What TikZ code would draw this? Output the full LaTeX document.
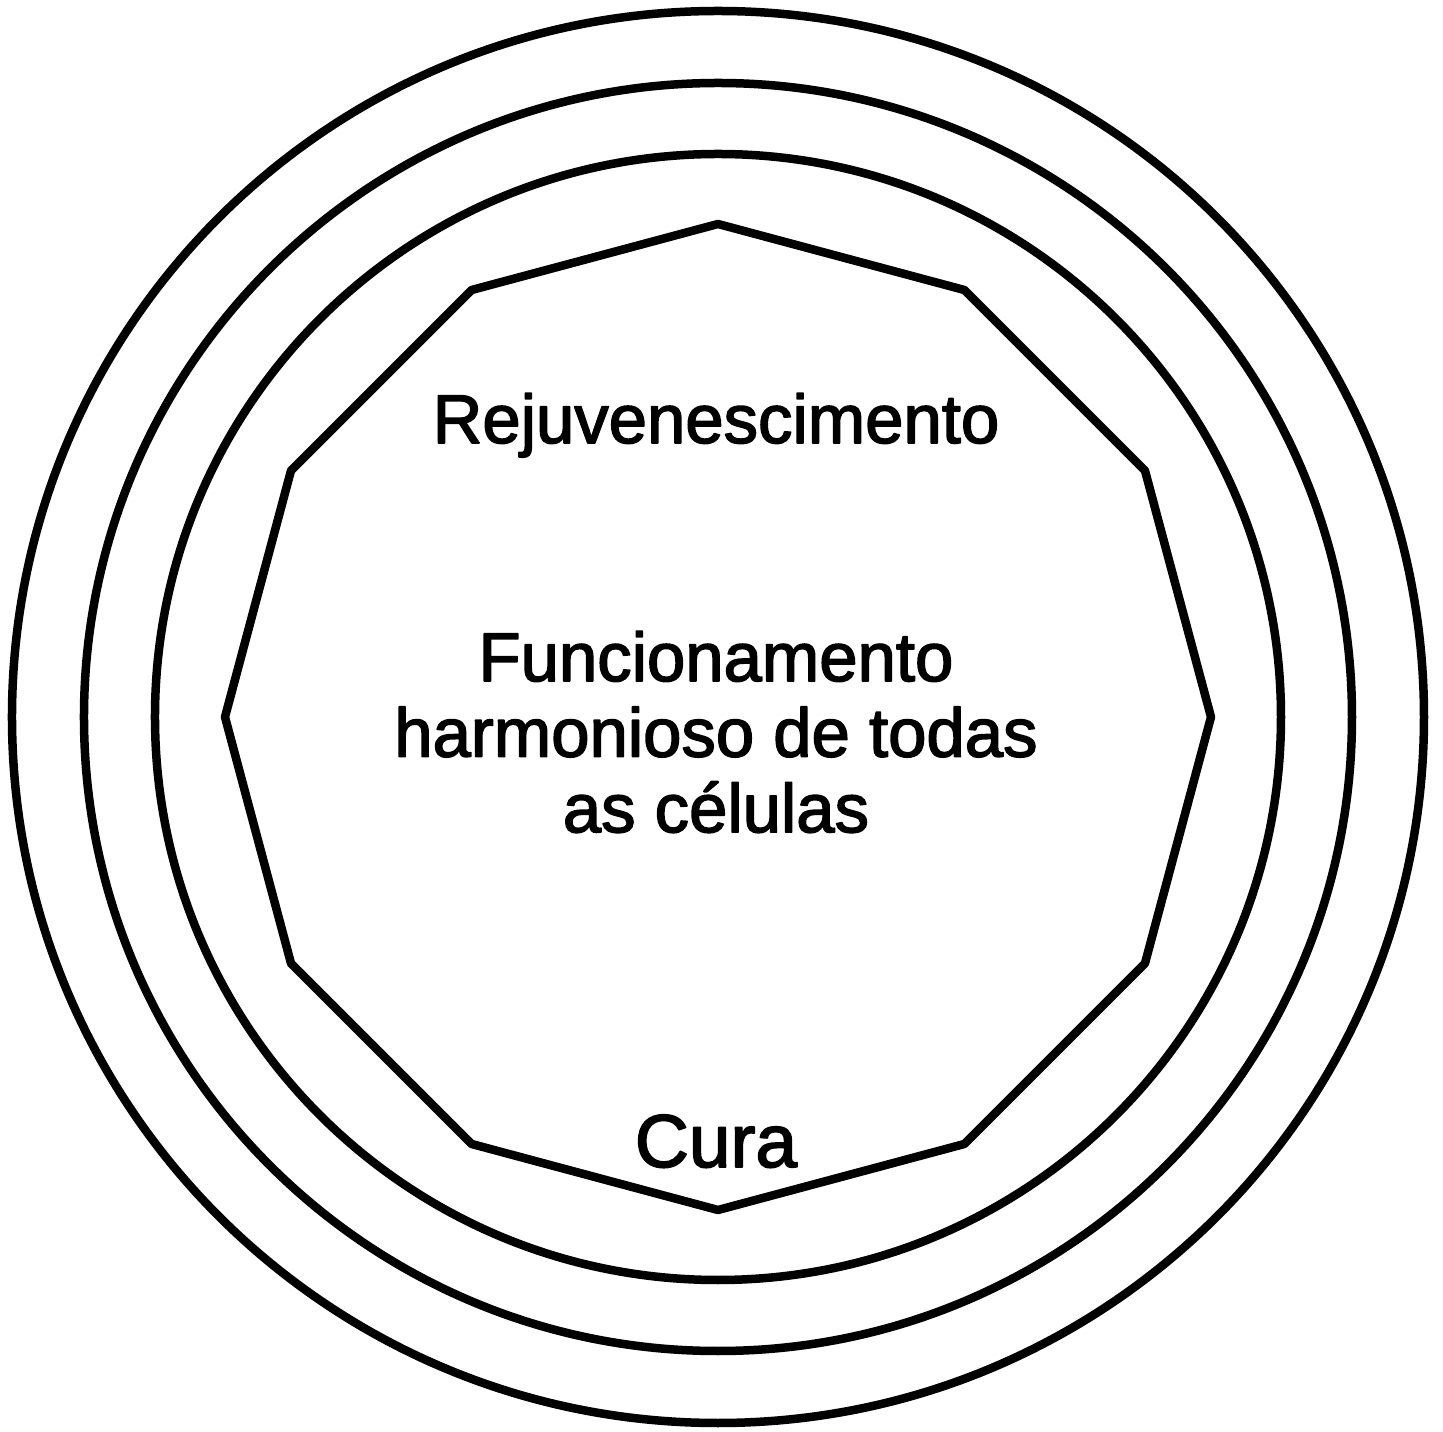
\documentclass[tikz,border=0pt]{standalone}
\usepackage{fontspec}
\setmainfont{Liberation Sans}
\newfontfamily\labelfont{Liberation Sans}[FakeBold=2.2]
\begin{document}
\begin{tikzpicture}[x=1cm, y=1cm, line width=0.085cm, line join=round]
      \def\ra{7.06}; % outer circle
      \def\rb{6.34};
      \def\rc{5.63};
      \def\rp{4.93}; % polygon
      %
      \useasboundingbox (-7.18,-7.15) rectangle (7.25,7.17);
      %
      \draw (0,0) circle (\ra);   % outer ring
      \draw (0,0) circle (\rb);   % middle ring
      \draw (0,0) circle (\rc);   % inner ring
      %
      \draw (90:\rp) \foreach \a in {120,150,...,420} {-- (\a:\rp)} -- cycle;
      %
      \node[anchor=base, font=\labelfont\fontsize{19.6pt}{23pt}\selectfont] (rejuv) at (-0.02,2.74) {Rejuvenescimento};
      %
      \node[align=center, font=\labelfont\fontsize{19.6pt}{21.5pt}\selectfont] (harmonia) at (-0.02,-0.15)
        {Funcionamento\\harmonioso de todas\\as células};
      %
      \node[anchor=base, font=\labelfont\fontsize{21.3pt}{25pt}\selectfont] (cura) at (-0.02,-4.50) {Cura};
      %
\end{tikzpicture}
\end{document}
